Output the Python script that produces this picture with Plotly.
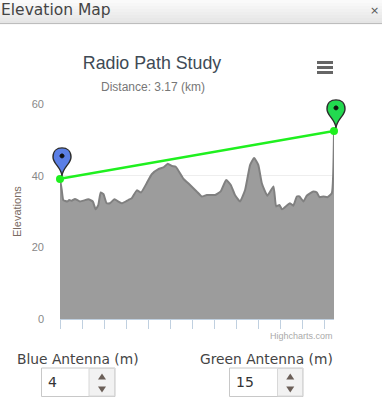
import plotly.graph_objects as go

W, H = 382, 400
L, R, T, B = 60, 334, 104, 319

# Profile (x: sample number, one axis tick per 10 samples)
distance = [0, 0.8, 1.5, 3.3, 4.2, 5.3, 6.8, 9.1, 12.9, 14.9, 16.2, 17.4, 18.5, 19.7, 21.2, 22.7, 24.7, 28, 31, 32.6,
            34.9, 36.8, 39.4, 41.7, 44.7, 47, 49, 50.8, 52.6, 56, 59.1, 62.1, 64.4, 66.7, 70.5, 73, 75.5, 77.6, 79.5,
            81.8, 84.1, 86.4, 88.2, 90.1, 91.7, 94.2, 97, 98.2, 99.7, 100.9, 104.5, 106, 107.6, 108.8, 110.6, 112.1,
            115.1, 116.7, 117.9, 119.7, 121.5, 123.5, 124.5]
elevation = [39.1, 36, 33.2, 32.8, 33.2, 33, 33.5, 32.8, 33.4, 32.8, 30.6, 31.8, 35.3, 34.9, 32.3, 32.3, 33.4, 32.3,
             33.2, 33.7, 35.9, 35.3, 37.9, 40.4, 41.8, 42.3, 43.3, 42.7, 42.5, 39.2, 37.4, 35.6, 34.2, 34.6, 34.6,
             35.6, 38.8, 37.4, 34.6, 32.8, 36, 43, 44.9, 43, 37.9, 34.4, 37, 31.4, 31.8, 30.6, 32.3, 31.6, 34.2,
             34.2, 32.8, 34.4, 35.6, 35.3, 34, 34.2, 34, 35.1, 52.5]
path_x = [0, 124.5]
path_y = [39.1, 52.5]
y_ticks = [0, 20, 40, 60]
x_ticks = list(range(0, 125, 10))
X_MAX = 124.5
Y_MAX = 60
blue_antenna = "4"
green_antenna = "15"


def rect(x0, y0, x1, y1, fill, line=None, lw=1):
    return dict(type="rect", xref="paper", yref="paper", layer="above",
                x0=(x0 - L) / (R - L), x1=(x1 - L) / (R - L),
                y0=(B - y1) / (B - T), y1=(B - y0) / (B - T),
                fillcolor=fill, line=dict(color=line or "rgba(0,0,0,0)", width=lw if line else 0))


def pp(x, y):
    return (x - L) / (R - L), (B - y) / (B - T)


def text(x, y, s, size, color, font, anchor="center", angle=0):
    xx, yy = pp(x, y)
    return dict(x=xx, y=yy, xref="paper", yref="paper", text=s, showarrow=False, xanchor=anchor, yanchor="middle",
                textangle=angle, font=dict(size=size, color=color, family=font))


PIN = "M 2 3 C 1 12 -7 15 -7 22 C -7 28 -3 31 2 31 C 7 31 11 28 11 22 C 11 15 3 12 2 3 Z"
DOT = "M 0 23 C 0 25.6 4 25.6 4 23 C 4 20.4 0 20.4 0 23 Z"


def pin(x, y, color):
    base = dict(type="path", xref="paper", yref="paper", xsizemode="pixel", ysizemode="pixel",
                xanchor=x / X_MAX, yanchor=y / Y_MAX, layer="above")
    return [dict(base, path=PIN, fillcolor=color, line=dict(color="#2c2c2c", width=1.4)),
            dict(base, path=DOT, fillcolor="#111111", line=dict(color="#111111", width=1))]


def triangle(cx, cy, up):
    x0, y0 = pp(cx - 4, cy + (3 if up else -3))
    x1, y1 = pp(cx + 4, cy + (3 if up else -3))
    x2, y2 = pp(cx, cy + (-3 if up else 3))
    return dict(type="path", xref="paper", yref="paper", layer="above",
                path=f"M {x0} {y0} L {x1} {y1} L {x2} {y2} Z", fillcolor="#6b5f58", line=dict(width=0))


fig = go.Figure()
fig.add_trace(go.Scatter(x=distance, y=elevation, mode="lines", fill="tozeroy", fillcolor="#9c9c9c",
                         line=dict(color="#808080", width=2, shape="spline", smoothing=0.4), hoverinfo="skip"))
fig.add_trace(go.Scatter(x=path_x, y=path_y, mode="lines+markers", line=dict(color="#1ff01f", width=2.5),
                         marker=dict(color="#1ff01f", size=8), cliponaxis=False, hoverinfo="skip"))

shapes = []
for i in range(8):
    shapes.append(rect(-10, i * 3, 392, (i + 1) * 3 + 0.2, f"rgb({250 - i * 3},{250 - i * 3},{250 - i * 3})"))
shapes.append(rect(-10, 23, 392, 24, "#bdbdbd"))
for yb in (61, 66, 71):
    shapes.append(rect(317, yb, 333, yb + 3, "#666666"))
for bx, dx in ((41.5, 89), (229.5, 277.5)):
    shapes.append(rect(bx, 368, bx + 73.5, 396.5, "#ffffff", "#c8c8c8", 1))
    shapes.append(rect(dx, 368.5, bx + 73, 396, "#f2f2f2", "#d8d8d8", 1))
    shapes.append(triangle((dx + bx + 73.5) / 2, 376.5, True))
    shapes.append(triangle((dx + bx + 73.5) / 2, 389.5, False))
shapes += pin(path_x[0], path_y[0], "#5b7fe6")
shapes += pin(path_x[1], path_y[1], "#22d94f")

SANS = "Liberation Sans, Arial, sans-serif"
DJ = "DejaVu Sans, sans-serif"
annotations = [
    text(-1, 10, "Elevation Map", 15.5, "#444444", DJ, "left"),
    text(381, 10, "×", 11, "#555555", DJ, "right"),
    text(153, 87, "Distance: 3.17 (km)", 12, "#777777", SANS),
    text(335, 336, "Highcharts.com", 9, "#aaaaaa", SANS, "right"),
    text(78, 359, "Blue Antenna (m)", 13.8, "#444444", DJ),
    text(266, 359, "Green Antenna (m)", 13.8, "#444444", DJ),
    text(46, 382, blue_antenna, 14, "#333333", DJ, "left"),
    text(234, 382, green_antenna, 14, "#333333", DJ, "left"),
    text(17, 212, "Elevations", 11, "#7a6a62", SANS, angle=-90),
]

fig.update_layout(
    width=W, height=H, margin=dict(l=L, r=W - R, t=T, b=H - B), paper_bgcolor="#ffffff", plot_bgcolor="#ffffff",
    showlegend=False, shapes=shapes, annotations=annotations,
    title=dict(text="Radio Path Study", x=152 / W, y=1 - 63 / H, xanchor="center", yanchor="middle",
               font=dict(size=17.8, color="#3e4a55", family=SANS)),
    xaxis=dict(range=[0, X_MAX], tickmode="array", tickvals=x_ticks, ticktext=[""] * len(x_ticks), ticks="outside",
               ticklen=9, tickcolor="#c0d0e0", tickwidth=1, showgrid=False, showline=True, linecolor="#c0d0e0",
               zeroline=False),
    yaxis=dict(range=[0, Y_MAX], tickmode="array", tickvals=y_ticks, gridcolor="#eeeeee", gridwidth=1, zeroline=False,
               ticks="", ticklabelstandoff=15, tickfont=dict(size=11, color="#888888", family=SANS)),
)

fig.write_html("out.html", config=dict(displayModeBar=False),
               post_script="document.body.style.margin='0';document.body.style.overflow='hidden';")
